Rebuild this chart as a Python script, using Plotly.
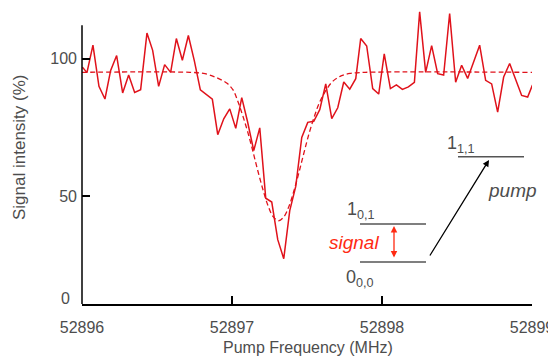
import plotly.graph_objects as go

# ---- data ----
freq = [52896.003, 52896.033, 52896.073, 52896.113, 52896.153, 52896.191, 52896.231, 52896.271,
        52896.311, 52896.351, 52896.391, 52896.433, 52896.471, 52896.511, 52896.551, 52896.591,
        52896.629, 52896.669, 52896.709, 52896.749, 52896.789, 52896.829, 52896.869, 52896.905,
        52896.945, 52896.985, 52897.025, 52897.065, 52897.103, 52897.145, 52897.185, 52897.225,
        52897.265, 52897.305, 52897.345, 52897.385, 52897.425, 52897.465, 52897.505, 52897.545,
        52897.585, 52897.625, 52897.665, 52897.705, 52897.745, 52897.785, 52897.825, 52897.858,
        52897.898, 52897.938, 52897.978, 52898.015, 52898.056, 52898.096, 52898.136, 52898.176,
        52898.216, 52898.251, 52898.291, 52898.331, 52898.371, 52898.411, 52898.451, 52898.491,
        52898.531, 52898.571, 52898.611, 52898.651, 52898.691, 52898.731, 52898.771, 52898.811,
        52898.851, 52898.891, 52898.931, 52898.971, 52899.003]
signal = [96.9, 94.9, 104.9, 89.9, 85.3, 95.7, 101.1, 87.5,
          94.0, 87.7, 88.7, 109.3, 103.0, 89.9, 97.8, 95.0,
          107.3, 99.4, 108.4, 99.2, 88.6, 87.0, 85.2, 72.3,
          78.1, 81.7, 74.6, 85.8, 77.2, 66.5, 74.8, 49.2,
          47.8, 34.1, 27.2, 44.7, 53.5, 71.3, 76.8, 77.2,
          81.4, 90.8, 78.2, 82.1, 91.5, 88.9, 92.7, 107.3,
          104.6, 89.1, 87.1, 101.7, 89.1, 90.4, 88.8, 89.7,
          91.4, 117.0, 95.0, 104.7, 94.5, 94.0, 116.4, 91.4,
          97.6, 92.8, 99.0, 104.9, 92.1, 90.8, 80.5, 93.3,
          98.2, 92.5, 86.6, 86.0, 90.4]

fit_freq = [52896.000, 52896.720, 52896.820, 52896.900, 52896.967, 52897.007, 52897.040,
            52897.073, 52897.107, 52897.140, 52897.173, 52897.207, 52897.240, 52897.273,
            52897.311, 52897.347, 52897.380, 52897.413, 52897.447, 52897.480, 52897.513,
            52897.547, 52897.580, 52897.627, 52897.673, 52897.727, 52897.787, 52897.887,
            52899.000]
fit_vals = [95.0, 95.0, 94.5, 93.0, 91.0, 88.6, 84.3,
            79.0, 72.9, 66.1, 59.0, 52.2, 46.5, 42.6,
            41.0, 42.5, 46.3, 51.9, 58.7, 65.8, 72.6,
            78.6, 83.6, 88.5, 91.8, 93.7, 94.6, 95.0,
            95.0]

x_ticks = [52896, 52897, 52898, 52899]
x_tick_text = ["52896", "52897", "52898", "52899"]
y_ticks = [50, 100]
y_tick_text = ["50", "100"]

RED = "#e0121b"
GREY = "#4d4d4d"
FONT = "Liberation Sans, Arial, Helvetica, sans-serif"

# page offset of the figure (browser default body margin)
OFF = 8
FIG_W, FIG_H = 556 - OFF, 356 - OFF
# plot area in figure pixels
L, T, W, H = 82 - OFF, 0, 450, 304 - OFF
Y0 = 10.7
PX_PER_UNIT = 2.748
YR = [Y0, Y0 + H / PX_PER_UNIT]


def pxx(x):
    """page x pixel -> paper x"""
    return (x - OFF - L) / W


def pxy(y):
    """page y pixel -> paper y"""
    return (T + H - (y - OFF)) / H


fig = go.Figure()
fig.add_trace(go.Scatter(x=fit_freq, y=fit_vals, mode="lines",
                         line=dict(color=RED, width=1.3, dash="5px,3px", shape="spline"),
                         hoverinfo="skip", showlegend=False))
fig.add_trace(go.Scatter(x=freq, y=signal, mode="lines",
                         line=dict(color=RED, width=1.5), showlegend=False))

LEV = dict(color="#555555", width=1.5)
shapes = [
    dict(type="line", xref="paper", yref="y", x0=0, x1=0, y0=YR[0], y1=112.1,
         line=dict(color="black", width=1.5)),
    dict(type="line", xref="paper", yref="paper", x0=pxx(458), x1=pxx(524), y0=pxy(156.7), y1=pxy(156.7), line=LEV),
    dict(type="line", xref="paper", yref="paper", x0=pxx(360), x1=pxx(426), y0=pxy(224), y1=pxy(224), line=LEV),
    dict(type="line", xref="paper", yref="paper", x0=pxx(360), x1=pxx(426), y0=pxy(262), y1=pxy(262), line=LEV),
]


def txt(text, x, y, size, color=GREY, xa="center", ya="middle", angle=0):
    return dict(text=text, xref="paper", yref="paper", x=pxx(x), y=pxy(y),
                xanchor=xa, yanchor=ya, textangle=angle, showarrow=False,
                font=dict(size=size, color=color, family=FONT))


annotations = [
    txt("Signal intensity (%)", 19, 147, 17, angle=-90),
    txt("Pump Frequency (MHz)", 308, 347, 16),
    txt("0", 72, 298, 16, xa="right"),
    txt("1<sub>1,1</sub>", 445, 144, 18, xa="left"),
    txt("1<sub>0,1</sub>", 345, 211, 18, xa="left"),
    txt("0<sub>0,0</sub>", 344, 278, 18, xa="left"),
    txt("<i>signal</i>", 354, 243, 19, color="#ff2a12"),
    txt("<i>pump</i>", 512, 190, 19),
    dict(text="", xref="paper", yref="paper", x=pxx(394), y=pxy(226), ax=0, ay=33,
         showarrow=True, arrowhead=2, startarrowhead=2, arrowside="end+start",
         arrowsize=1, arrowwidth=1.3, arrowcolor="#ff2a12", standoff=0, startstandoff=0),
    dict(text="", xref="paper", yref="paper", x=pxx(489), y=pxy(160), ax=-60, ay=97,
         showarrow=True, arrowhead=2, arrowsize=1, arrowwidth=1.3, arrowcolor="black",
         standoff=0),
]

fig.update_layout(
    width=FIG_W, height=FIG_H,
    margin=dict(l=L, r=FIG_W - L - W, t=T, b=FIG_H - T - H, autoexpand=False),
    paper_bgcolor="white", plot_bgcolor="white",
    font=dict(family=FONT, size=16, color=GREY),
    shapes=shapes, annotations=annotations,
    xaxis=dict(range=[52896, 52899], tickvals=x_ticks, ticktext=x_tick_text,
               showline=True, linecolor="black", linewidth=1.5,
               ticks="inside", ticklen=8, tickwidth=1.5, tickcolor="black",
               showgrid=False, zeroline=False, ticklabelstandoff=8,
               tickfont=dict(size=16, color=GREY, family=FONT)),
    yaxis=dict(range=YR, tickvals=y_ticks, ticktext=y_tick_text,
               showline=False, ticks="inside", ticklen=8, tickwidth=1.5, tickcolor="black",
               showgrid=False, zeroline=False, ticklabelstandoff=4,
               tickfont=dict(size=16, color=GREY, family=FONT)),
)

fig.write_html("out.html")
